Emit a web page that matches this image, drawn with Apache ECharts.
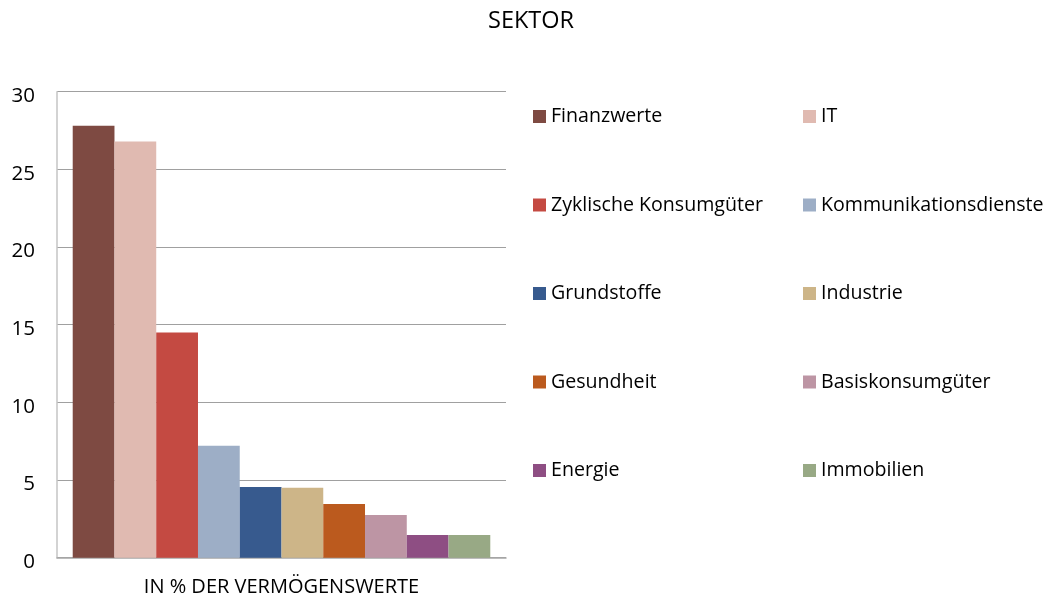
<!DOCTYPE html>
<html>
<head>
<meta charset="utf-8">
<script src="https://cdn.jsdelivr.net/npm/echarts@6/dist/echarts.min.js"></script>
<style>html,body{margin:0;padding:0;background:#fff;}#c{width:1057px;height:595px;}</style>
</head>
<body>
<div id="c"></div>
<script>
var titleText = 'SEKTOR';
var categories = ['IN % DER VERMÖGENSWERTE'];
var sectors = ['Finanzwerte','IT','Zyklische Konsumgüter','Kommunikationsdienste','Grundstoffe','Industrie','Gesundheit','Basiskonsumgüter','Energie','Immobilien'];
var values = [27.8, 26.8, 14.5, 7.2, 4.55, 4.5, 3.45, 2.75, 1.46, 1.46];
var colors = ['#7E4A42','#E0BAB1','#C44A42','#9DAEC6','#375A8E','#CDB588','#BB5A1E','#BD95A4','#8E4E83','#98A985'];
var yTicks = [0, 5, 10, 15, 20, 25, 30];

var font = 'Open Sans';
var series = sectors.map(function (name, i) {
  return {
    name: name,
    type: 'bar',
    data: [values[i]],
    barGap: '0%',
    barCategoryGap: '7%',
    itemStyle: { color: colors[i] },
    emphasis: { disabled: true }
  };
});
var col1 = sectors.filter(function (_, i) { return i % 2 === 0; });
var col2 = sectors.filter(function (_, i) { return i % 2 === 1; });
function legend(data, left) {
  return {
    data: data,
    orient: 'vertical',
    left: left,
    top: 106.5,
    padding: 0,
    itemWidth: 13,
    itemHeight: 13,
    itemGap: 68.5,
    icon: 'rect',
    selectedMode: false,
    textStyle: { fontFamily: font, fontSize: 19.6, color: '#000', lineHeight: 20 }
  };
}
var chart = echarts.init(document.getElementById('c'));
chart.setOption({
  animation: false,
  color: colors,
  title: {
    text: titleText,
    left: 488,
    top: 6,
    padding: 0,
    textStyle: { fontFamily: font, fontSize: 23.5, fontWeight: 'normal', color: '#000', lineHeight: 30 }
  },
  legend: [legend(col1, 533), legend(col2, 803)],
  grid: { left: 57, right: 551, top: 91.7, bottom: 37.3, containLabel: false, outerBoundsMode: 'none' },
  xAxis: {
    type: 'category',
    data: categories,
    axisLine: { show: true, lineStyle: { color: '#a6a6a6', width: 1.5 } },
    axisTick: { show: false },
    axisLabel: { fontFamily: font, fontSize: 20, color: '#000', margin: 20, lineHeight: 20 }
  },
  yAxis: {
    type: 'value',
    min: yTicks[0],
    max: yTicks[yTicks.length - 1],
    interval: yTicks[1] - yTicks[0],
    axisLine: { show: true, lineStyle: { color: '#c4c4c4', width: 1.5 } },
    axisTick: { show: false },
    splitLine: { show: true, lineStyle: { color: '#a0a0a0', width: 1.2 } },
    axisLabel: { fontFamily: font, fontSize: 20.5, color: '#000', margin: 22, verticalAlign: 'top', lineHeight: 9 }
  },
  series: series
});
</script>
</body>
</html>
